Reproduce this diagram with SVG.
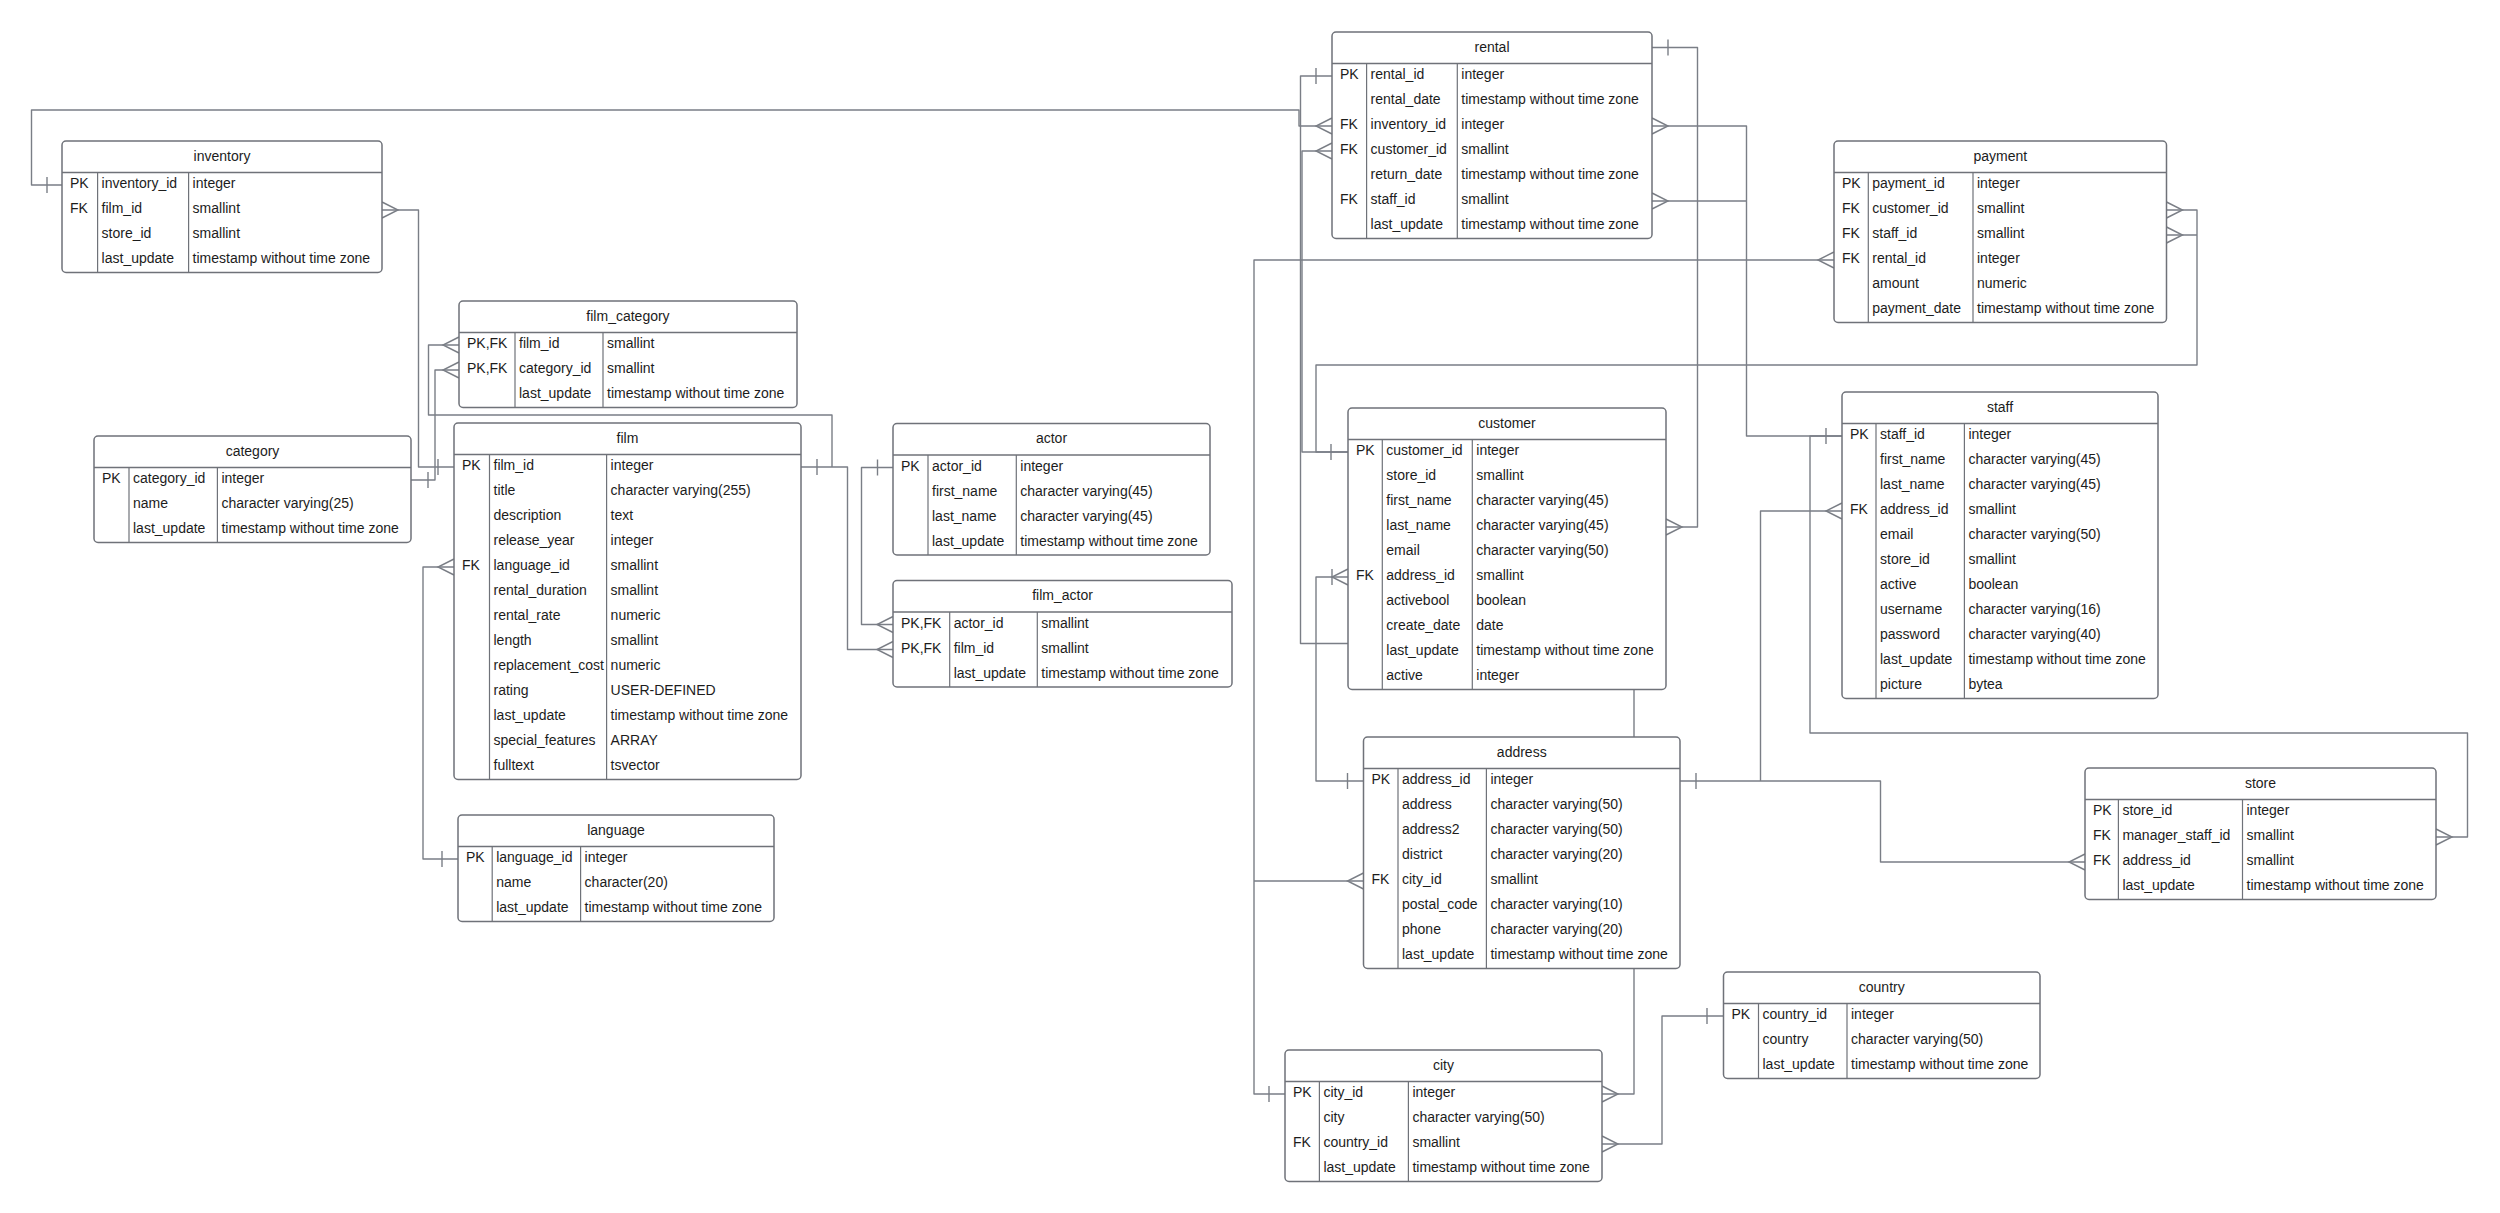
<svg xmlns="http://www.w3.org/2000/svg" xmlns:xlink="http://www.w3.org/1999/xlink" width="2500" height="1213" viewBox="0 0 2500 1213">
<style>
.bg{fill:#ffffff}
.box{fill:#ffffff;stroke:#6f7279;stroke-width:1.5}
.hd{stroke:#6f7279;stroke-width:1.5}
.sep{stroke:#6f7279;stroke-width:1.2}
.t{font-family:"Liberation Sans",Arial,sans-serif;font-size:14px;fill:#1c1c1c}
.tt{font-family:"Liberation Sans",Arial,sans-serif;font-size:14px;fill:#1c1c1c;text-anchor:middle}
.c{fill:none;stroke:#7a7e86;stroke-width:1.4;stroke-linejoin:round}
.m{fill:none;stroke:#7a7e86;stroke-width:1.4}
</style>
<defs>
<path id="crowL" class="m" d="M0,-8 L-16,0 L0,8"/>
<path id="crowR" class="m" d="M0,-8 L16,0 L0,8"/>
<path id="bar" class="m" d="M0,-8 V8"/>
</defs>
<rect class="bg" x="0" y="0" width="2500" height="1213"/>
<g id="connectors">
<path class="c" d="M62,185 H31.5 V110 H1299 V126 H1332"/>
<use href="#bar" x="47" y="185"/><use href="#crowL" x="1332" y="126"/>
<path class="c" d="M1332,151 H1302 V452 H1348"/>
<use href="#crowL" x="1332" y="151"/><use href="#bar" x="1331" y="452"/>
<path class="c" d="M1332,76 H1300.5 V643.5 H1348"/>
<use href="#bar" x="1316" y="76"/>
<path class="c" d="M2166.5,210 H2197 V365 H1316 V452 H1348 M2166.5,235 H2197"/>
<use href="#crowR" x="2166.5" y="210"/><use href="#crowR" x="2166.5" y="235"/>
<path class="c" d="M1834,260 H1254 V1094 H1285 M1254,881 H1363.5"/>
<use href="#crowL" x="1834" y="260"/><use href="#crowL" x="1363.5" y="881"/><use href="#bar" x="1269" y="1094"/>
<path class="c" d="M1348,577 H1316 V781 H1363.5"/>
<use href="#crowL" x="1348" y="577"/><use href="#bar" x="1332" y="577"/><use href="#bar" x="1347.5" y="781"/>
<path class="c" d="M1652,47.5 H1697.5 V527 H1666"/>
<use href="#bar" x="1668" y="47.5"/><use href="#crowR" x="1666" y="527"/>
<path class="c" d="M1652,126 H1746.5 V436 H1842 M1652,201 H1746.5"/>
<use href="#crowR" x="1652" y="126"/><use href="#crowR" x="1652" y="201"/><use href="#bar" x="1826" y="436"/>
<path class="c" d="M2436,837 H2467.5 V733 H1810 V436 H1842"/>
<use href="#crowR" x="2436" y="837"/>
<path class="c" d="M1680,781 H1760.5 V511 H1842 M1760.5,781 H1880.5 V862 H2085"/>
<use href="#bar" x="1696" y="781"/><use href="#crowL" x="1842" y="511"/><use href="#crowL" x="2085" y="862"/>
<path class="c" d="M1634,689.5 V1094 H1602"/>
<use href="#crowR" x="1602" y="1094"/>
<path class="c" d="M1602,1144 H1662 V1016 H1723.5"/>
<use href="#crowR" x="1602" y="1144"/><use href="#bar" x="1707" y="1016"/>
<path class="c" d="M382,210 H418.5 V467 H454"/>
<use href="#crowR" x="382" y="210"/><use href="#bar" x="438" y="467"/>
<path class="c" d="M459,345 H428.5 V415 H832 V467 H801 M832,467 H847.5 V649.5 H893"/>
<use href="#crowL" x="459" y="345"/><use href="#crowL" x="893" y="649.5"/><use href="#bar" x="817" y="467"/>
<path class="c" d="M411,480 H435 V370 H459"/>
<use href="#bar" x="428" y="480"/><use href="#crowL" x="459" y="370"/>
<path class="c" d="M893,467.5 H861.5 V624.5 H893"/>
<use href="#bar" x="877.5" y="467.5"/><use href="#crowL" x="893" y="624.5"/>
<path class="c" d="M454,567 H423 V859 H458"/>
<use href="#crowL" x="454" y="567"/><use href="#bar" x="442" y="859"/>
</g>

<g id="inventory">
<rect class="box" x="62" y="141" width="320" height="131.5" rx="4"/>
<line class="hd" x1="62" y1="172.5" x2="382" y2="172.5"/>
<line class="sep" x1="97.6" y1="172.5" x2="97.6" y2="272.5"/><line class="sep" x1="188.6" y1="172.5" x2="188.6" y2="272.5"/>
<text class="tt" x="222" y="160.75">inventory</text>
<text class="t" x="70" y="188">PK</text><text class="t" x="101.6" y="188">inventory_id</text><text class="t" x="192.6" y="188">integer</text>
<text class="t" x="70" y="213">FK</text><text class="t" x="101.6" y="213">film_id</text><text class="t" x="192.6" y="213">smallint</text>
<text class="t" x="101.6" y="238">store_id</text><text class="t" x="192.6" y="238">smallint</text>
<text class="t" x="101.6" y="263">last_update</text><text class="t" x="192.6" y="263">timestamp without time zone</text>
</g>

<g id="film_category">
<rect class="box" x="459" y="301" width="338" height="106.5" rx="4"/>
<line class="hd" x1="459" y1="332.5" x2="797" y2="332.5"/>
<line class="sep" x1="515" y1="332.5" x2="515" y2="407.5"/><line class="sep" x1="603" y1="332.5" x2="603" y2="407.5"/>
<text class="tt" x="628" y="320.75">film_category</text>
<text class="t" x="467" y="348">PK,FK</text><text class="t" x="519" y="348">film_id</text><text class="t" x="607" y="348">smallint</text>
<text class="t" x="467" y="373">PK,FK</text><text class="t" x="519" y="373">category_id</text><text class="t" x="607" y="373">smallint</text>
<text class="t" x="519" y="398">last_update</text><text class="t" x="607" y="398">timestamp without time zone</text>
</g>

<g id="category">
<rect class="box" x="94" y="436" width="317" height="106.5" rx="4"/>
<line class="hd" x1="94" y1="467.5" x2="411" y2="467.5"/>
<line class="sep" x1="129" y1="467.5" x2="129" y2="542.5"/><line class="sep" x1="217.4" y1="467.5" x2="217.4" y2="542.5"/>
<text class="tt" x="252.5" y="455.75">category</text>
<text class="t" x="102" y="483">PK</text><text class="t" x="133" y="483">category_id</text><text class="t" x="221.4" y="483">integer</text>
<text class="t" x="133" y="508">name</text><text class="t" x="221.4" y="508">character varying(25)</text>
<text class="t" x="133" y="533">last_update</text><text class="t" x="221.4" y="533">timestamp without time zone</text>
</g>

<g id="film">
<rect class="box" x="454" y="423" width="347" height="356.5" rx="4"/>
<line class="hd" x1="454" y1="454.5" x2="801" y2="454.5"/>
<line class="sep" x1="489.5" y1="454.5" x2="489.5" y2="779.5"/><line class="sep" x1="606.6" y1="454.5" x2="606.6" y2="779.5"/>
<text class="tt" x="627.5" y="442.75">film</text>
<text class="t" x="462" y="470">PK</text><text class="t" x="493.5" y="470">film_id</text><text class="t" x="610.6" y="470">integer</text>
<text class="t" x="493.5" y="495">title</text><text class="t" x="610.6" y="495">character varying(255)</text>
<text class="t" x="493.5" y="520">description</text><text class="t" x="610.6" y="520">text</text>
<text class="t" x="493.5" y="545">release_year</text><text class="t" x="610.6" y="545">integer</text>
<text class="t" x="462" y="570">FK</text><text class="t" x="493.5" y="570">language_id</text><text class="t" x="610.6" y="570">smallint</text>
<text class="t" x="493.5" y="595">rental_duration</text><text class="t" x="610.6" y="595">smallint</text>
<text class="t" x="493.5" y="620">rental_rate</text><text class="t" x="610.6" y="620">numeric</text>
<text class="t" x="493.5" y="645">length</text><text class="t" x="610.6" y="645">smallint</text>
<text class="t" x="493.5" y="670">replacement_cost</text><text class="t" x="610.6" y="670">numeric</text>
<text class="t" x="493.5" y="695">rating</text><text class="t" x="610.6" y="695">USER-DEFINED</text>
<text class="t" x="493.5" y="720">last_update</text><text class="t" x="610.6" y="720">timestamp without time zone</text>
<text class="t" x="493.5" y="745">special_features</text><text class="t" x="610.6" y="745">ARRAY</text>
<text class="t" x="493.5" y="770">fulltext</text><text class="t" x="610.6" y="770">tsvector</text>
</g>

<g id="language">
<rect class="box" x="458" y="815" width="316" height="106.5" rx="4"/>
<line class="hd" x1="458" y1="846.5" x2="774" y2="846.5"/>
<line class="sep" x1="492.2" y1="846.5" x2="492.2" y2="921.5"/><line class="sep" x1="580.6" y1="846.5" x2="580.6" y2="921.5"/>
<text class="tt" x="616" y="834.75">language</text>
<text class="t" x="466" y="862">PK</text><text class="t" x="496.2" y="862">language_id</text><text class="t" x="584.6" y="862">integer</text>
<text class="t" x="496.2" y="887">name</text><text class="t" x="584.6" y="887">character(20)</text>
<text class="t" x="496.2" y="912">last_update</text><text class="t" x="584.6" y="912">timestamp without time zone</text>
</g>

<g id="actor">
<rect class="box" x="893" y="423.5" width="317" height="131.5" rx="4"/>
<line class="hd" x1="893" y1="455" x2="1210" y2="455"/>
<line class="sep" x1="928" y1="455" x2="928" y2="555"/><line class="sep" x1="1016.3" y1="455" x2="1016.3" y2="555"/>
<text class="tt" x="1051.5" y="443.25">actor</text>
<text class="t" x="901" y="470.5">PK</text><text class="t" x="932" y="470.5">actor_id</text><text class="t" x="1020.3" y="470.5">integer</text>
<text class="t" x="932" y="495.5">first_name</text><text class="t" x="1020.3" y="495.5">character varying(45)</text>
<text class="t" x="932" y="520.5">last_name</text><text class="t" x="1020.3" y="520.5">character varying(45)</text>
<text class="t" x="932" y="545.5">last_update</text><text class="t" x="1020.3" y="545.5">timestamp without time zone</text>
</g>

<g id="film_actor">
<rect class="box" x="893" y="580.5" width="339" height="106.5" rx="4"/>
<line class="hd" x1="893" y1="612" x2="1232" y2="612"/>
<line class="sep" x1="949.7" y1="612" x2="949.7" y2="687"/><line class="sep" x1="1037.3" y1="612" x2="1037.3" y2="687"/>
<text class="tt" x="1062.5" y="600.25">film_actor</text>
<text class="t" x="901" y="627.5">PK,FK</text><text class="t" x="953.7" y="627.5">actor_id</text><text class="t" x="1041.3" y="627.5">smallint</text>
<text class="t" x="901" y="652.5">PK,FK</text><text class="t" x="953.7" y="652.5">film_id</text><text class="t" x="1041.3" y="652.5">smallint</text>
<text class="t" x="953.7" y="677.5">last_update</text><text class="t" x="1041.3" y="677.5">timestamp without time zone</text>
</g>

<g id="rental">
<rect class="box" x="1332" y="32" width="320" height="206.5" rx="4"/>
<line class="hd" x1="1332" y1="63.5" x2="1652" y2="63.5"/>
<line class="sep" x1="1366.6" y1="63.5" x2="1366.6" y2="238.5"/><line class="sep" x1="1457.3" y1="63.5" x2="1457.3" y2="238.5"/>
<text class="tt" x="1492" y="51.75">rental</text>
<text class="t" x="1340" y="79">PK</text><text class="t" x="1370.6" y="79">rental_id</text><text class="t" x="1461.3" y="79">integer</text>
<text class="t" x="1370.6" y="104">rental_date</text><text class="t" x="1461.3" y="104">timestamp without time zone</text>
<text class="t" x="1340" y="129">FK</text><text class="t" x="1370.6" y="129">inventory_id</text><text class="t" x="1461.3" y="129">integer</text>
<text class="t" x="1340" y="154">FK</text><text class="t" x="1370.6" y="154">customer_id</text><text class="t" x="1461.3" y="154">smallint</text>
<text class="t" x="1370.6" y="179">return_date</text><text class="t" x="1461.3" y="179">timestamp without time zone</text>
<text class="t" x="1340" y="204">FK</text><text class="t" x="1370.6" y="204">staff_id</text><text class="t" x="1461.3" y="204">smallint</text>
<text class="t" x="1370.6" y="229">last_update</text><text class="t" x="1461.3" y="229">timestamp without time zone</text>
</g>

<g id="payment">
<rect class="box" x="1834" y="141" width="332.5" height="181.5" rx="4"/>
<line class="hd" x1="1834" y1="172.5" x2="2166.5" y2="172.5"/>
<line class="sep" x1="1868.3" y1="172.5" x2="1868.3" y2="322.5"/><line class="sep" x1="1973" y1="172.5" x2="1973" y2="322.5"/>
<text class="tt" x="2000.25" y="160.75">payment</text>
<text class="t" x="1842" y="188">PK</text><text class="t" x="1872.3" y="188">payment_id</text><text class="t" x="1977" y="188">integer</text>
<text class="t" x="1842" y="213">FK</text><text class="t" x="1872.3" y="213">customer_id</text><text class="t" x="1977" y="213">smallint</text>
<text class="t" x="1842" y="238">FK</text><text class="t" x="1872.3" y="238">staff_id</text><text class="t" x="1977" y="238">smallint</text>
<text class="t" x="1842" y="263">FK</text><text class="t" x="1872.3" y="263">rental_id</text><text class="t" x="1977" y="263">integer</text>
<text class="t" x="1872.3" y="288">amount</text><text class="t" x="1977" y="288">numeric</text>
<text class="t" x="1872.3" y="313">payment_date</text><text class="t" x="1977" y="313">timestamp without time zone</text>
</g>

<g id="customer">
<rect class="box" x="1348" y="408" width="318" height="281.5" rx="4"/>
<line class="hd" x1="1348" y1="439.5" x2="1666" y2="439.5"/>
<line class="sep" x1="1382.3" y1="439.5" x2="1382.3" y2="689.5"/><line class="sep" x1="1472.3" y1="439.5" x2="1472.3" y2="689.5"/>
<text class="tt" x="1507" y="427.75">customer</text>
<text class="t" x="1356" y="455">PK</text><text class="t" x="1386.3" y="455">customer_id</text><text class="t" x="1476.3" y="455">integer</text>
<text class="t" x="1386.3" y="480">store_id</text><text class="t" x="1476.3" y="480">smallint</text>
<text class="t" x="1386.3" y="505">first_name</text><text class="t" x="1476.3" y="505">character varying(45)</text>
<text class="t" x="1386.3" y="530">last_name</text><text class="t" x="1476.3" y="530">character varying(45)</text>
<text class="t" x="1386.3" y="555">email</text><text class="t" x="1476.3" y="555">character varying(50)</text>
<text class="t" x="1356" y="580">FK</text><text class="t" x="1386.3" y="580">address_id</text><text class="t" x="1476.3" y="580">smallint</text>
<text class="t" x="1386.3" y="605">activebool</text><text class="t" x="1476.3" y="605">boolean</text>
<text class="t" x="1386.3" y="630">create_date</text><text class="t" x="1476.3" y="630">date</text>
<text class="t" x="1386.3" y="655">last_update</text><text class="t" x="1476.3" y="655">timestamp without time zone</text>
<text class="t" x="1386.3" y="680">active</text><text class="t" x="1476.3" y="680">integer</text>
</g>

<g id="staff">
<rect class="box" x="1842" y="392" width="316" height="306.5" rx="4"/>
<line class="hd" x1="1842" y1="423.5" x2="2158" y2="423.5"/>
<line class="sep" x1="1876" y1="423.5" x2="1876" y2="698.5"/><line class="sep" x1="1964.4" y1="423.5" x2="1964.4" y2="698.5"/>
<text class="tt" x="2000" y="411.75">staff</text>
<text class="t" x="1850" y="439">PK</text><text class="t" x="1880" y="439">staff_id</text><text class="t" x="1968.4" y="439">integer</text>
<text class="t" x="1880" y="464">first_name</text><text class="t" x="1968.4" y="464">character varying(45)</text>
<text class="t" x="1880" y="489">last_name</text><text class="t" x="1968.4" y="489">character varying(45)</text>
<text class="t" x="1850" y="514">FK</text><text class="t" x="1880" y="514">address_id</text><text class="t" x="1968.4" y="514">smallint</text>
<text class="t" x="1880" y="539">email</text><text class="t" x="1968.4" y="539">character varying(50)</text>
<text class="t" x="1880" y="564">store_id</text><text class="t" x="1968.4" y="564">smallint</text>
<text class="t" x="1880" y="589">active</text><text class="t" x="1968.4" y="589">boolean</text>
<text class="t" x="1880" y="614">username</text><text class="t" x="1968.4" y="614">character varying(16)</text>
<text class="t" x="1880" y="639">password</text><text class="t" x="1968.4" y="639">character varying(40)</text>
<text class="t" x="1880" y="664">last_update</text><text class="t" x="1968.4" y="664">timestamp without time zone</text>
<text class="t" x="1880" y="689">picture</text><text class="t" x="1968.4" y="689">bytea</text>
</g>

<g id="address">
<rect class="box" x="1363.5" y="737" width="316.5" height="231.5" rx="4"/>
<line class="hd" x1="1363.5" y1="768.5" x2="1680" y2="768.5"/>
<line class="sep" x1="1398" y1="768.5" x2="1398" y2="968.5"/><line class="sep" x1="1486.4" y1="768.5" x2="1486.4" y2="968.5"/>
<text class="tt" x="1521.75" y="756.75">address</text>
<text class="t" x="1371.5" y="784">PK</text><text class="t" x="1402" y="784">address_id</text><text class="t" x="1490.4" y="784">integer</text>
<text class="t" x="1402" y="809">address</text><text class="t" x="1490.4" y="809">character varying(50)</text>
<text class="t" x="1402" y="834">address2</text><text class="t" x="1490.4" y="834">character varying(50)</text>
<text class="t" x="1402" y="859">district</text><text class="t" x="1490.4" y="859">character varying(20)</text>
<text class="t" x="1371.5" y="884">FK</text><text class="t" x="1402" y="884">city_id</text><text class="t" x="1490.4" y="884">smallint</text>
<text class="t" x="1402" y="909">postal_code</text><text class="t" x="1490.4" y="909">character varying(10)</text>
<text class="t" x="1402" y="934">phone</text><text class="t" x="1490.4" y="934">character varying(20)</text>
<text class="t" x="1402" y="959">last_update</text><text class="t" x="1490.4" y="959">timestamp without time zone</text>
</g>

<g id="store">
<rect class="box" x="2085" y="768" width="351" height="131.5" rx="4"/>
<line class="hd" x1="2085" y1="799.5" x2="2436" y2="799.5"/>
<line class="sep" x1="2118.4" y1="799.5" x2="2118.4" y2="899.5"/><line class="sep" x1="2242.5" y1="799.5" x2="2242.5" y2="899.5"/>
<text class="tt" x="2260.5" y="787.75">store</text>
<text class="t" x="2093" y="815">PK</text><text class="t" x="2122.4" y="815">store_id</text><text class="t" x="2246.5" y="815">integer</text>
<text class="t" x="2093" y="840">FK</text><text class="t" x="2122.4" y="840">manager_staff_id</text><text class="t" x="2246.5" y="840">smallint</text>
<text class="t" x="2093" y="865">FK</text><text class="t" x="2122.4" y="865">address_id</text><text class="t" x="2246.5" y="865">smallint</text>
<text class="t" x="2122.4" y="890">last_update</text><text class="t" x="2246.5" y="890">timestamp without time zone</text>
</g>

<g id="city">
<rect class="box" x="1285" y="1050" width="317" height="131.5" rx="4"/>
<line class="hd" x1="1285" y1="1081.5" x2="1602" y2="1081.5"/>
<line class="sep" x1="1319.4" y1="1081.5" x2="1319.4" y2="1181.5"/><line class="sep" x1="1408.4" y1="1081.5" x2="1408.4" y2="1181.5"/>
<text class="tt" x="1443.5" y="1069.75">city</text>
<text class="t" x="1293" y="1097">PK</text><text class="t" x="1323.4" y="1097">city_id</text><text class="t" x="1412.4" y="1097">integer</text>
<text class="t" x="1323.4" y="1122">city</text><text class="t" x="1412.4" y="1122">character varying(50)</text>
<text class="t" x="1293" y="1147">FK</text><text class="t" x="1323.4" y="1147">country_id</text><text class="t" x="1412.4" y="1147">smallint</text>
<text class="t" x="1323.4" y="1172">last_update</text><text class="t" x="1412.4" y="1172">timestamp without time zone</text>
</g>

<g id="country">
<rect class="box" x="1723.5" y="972" width="316.5" height="106.5" rx="4"/>
<line class="hd" x1="1723.5" y1="1003.5" x2="2040" y2="1003.5"/>
<line class="sep" x1="1758.5" y1="1003.5" x2="1758.5" y2="1078.5"/><line class="sep" x1="1847" y1="1003.5" x2="1847" y2="1078.5"/>
<text class="tt" x="1881.75" y="991.75">country</text>
<text class="t" x="1731.5" y="1019">PK</text><text class="t" x="1762.5" y="1019">country_id</text><text class="t" x="1851" y="1019">integer</text>
<text class="t" x="1762.5" y="1044">country</text><text class="t" x="1851" y="1044">character varying(50)</text>
<text class="t" x="1762.5" y="1069">last_update</text><text class="t" x="1851" y="1069">timestamp without time zone</text>
</g>
</svg>
